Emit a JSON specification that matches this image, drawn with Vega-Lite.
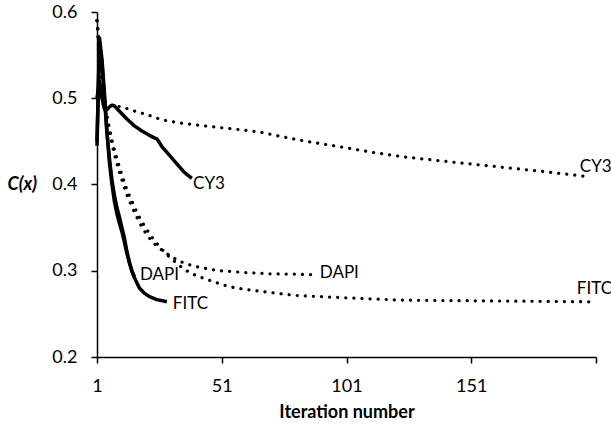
{
  "$schema": "https://vega.github.io/schema/vega-lite/v6.json",
  "width": 499,
  "height": 345,
  "autosize": {"type": "none"},
  "padding": {"left": 97, "top": 12, "right": 15, "bottom": 72},
  "background": "white",
  "config": {"view": {"stroke": null}, "font": "Lato"},
  "datasets": {
    "curves": [
      {"dye": "CY3", "run": "dotted", "iteration": 1, "cx": 0.59},
      {"dye": "CY3", "run": "dotted", "iteration": 2, "cx": 0.54},
      {"dye": "CY3", "run": "dotted", "iteration": 3, "cx": 0.51},
      {"dye": "CY3", "run": "dotted", "iteration": 4, "cx": 0.498},
      {"dye": "CY3", "run": "dotted", "iteration": 5, "cx": 0.493},
      {"dye": "CY3", "run": "dotted", "iteration": 7, "cx": 0.491},
      {"dye": "CY3", "run": "dotted", "iteration": 11, "cx": 0.49},
      {"dye": "CY3", "run": "dotted", "iteration": 15, "cx": 0.486},
      {"dye": "CY3", "run": "dotted", "iteration": 21, "cx": 0.481},
      {"dye": "CY3", "run": "dotted", "iteration": 27, "cx": 0.475},
      {"dye": "CY3", "run": "dotted", "iteration": 35, "cx": 0.471},
      {"dye": "CY3", "run": "dotted", "iteration": 47, "cx": 0.467},
      {"dye": "CY3", "run": "dotted", "iteration": 60, "cx": 0.463},
      {"dye": "CY3", "run": "dotted", "iteration": 66, "cx": 0.461},
      {"dye": "CY3", "run": "dotted", "iteration": 74, "cx": 0.456},
      {"dye": "CY3", "run": "dotted", "iteration": 85, "cx": 0.45},
      {"dye": "CY3", "run": "dotted", "iteration": 100, "cx": 0.443},
      {"dye": "CY3", "run": "dotted", "iteration": 112, "cx": 0.437},
      {"dye": "CY3", "run": "dotted", "iteration": 124, "cx": 0.432},
      {"dye": "CY3", "run": "dotted", "iteration": 140, "cx": 0.427},
      {"dye": "CY3", "run": "dotted", "iteration": 160, "cx": 0.421},
      {"dye": "CY3", "run": "dotted", "iteration": 180, "cx": 0.415},
      {"dye": "CY3", "run": "dotted", "iteration": 198, "cx": 0.409},

      {"dye": "DAPI", "run": "dotted", "iteration": 1, "cx": 0.59},
      {"dye": "DAPI", "run": "dotted", "iteration": 2, "cx": 0.56},
      {"dye": "DAPI", "run": "dotted", "iteration": 3, "cx": 0.52},
      {"dye": "DAPI", "run": "dotted", "iteration": 4, "cx": 0.495},
      {"dye": "DAPI", "run": "dotted", "iteration": 5, "cx": 0.475},
      {"dye": "DAPI", "run": "dotted", "iteration": 6, "cx": 0.46},
      {"dye": "DAPI", "run": "dotted", "iteration": 7, "cx": 0.447},
      {"dye": "DAPI", "run": "dotted", "iteration": 8, "cx": 0.435},
      {"dye": "DAPI", "run": "dotted", "iteration": 9, "cx": 0.424},
      {"dye": "DAPI", "run": "dotted", "iteration": 10, "cx": 0.414},
      {"dye": "DAPI", "run": "dotted", "iteration": 11, "cx": 0.405},
      {"dye": "DAPI", "run": "dotted", "iteration": 12, "cx": 0.396},
      {"dye": "DAPI", "run": "dotted", "iteration": 13, "cx": 0.388},
      {"dye": "DAPI", "run": "dotted", "iteration": 14, "cx": 0.381},
      {"dye": "DAPI", "run": "dotted", "iteration": 16, "cx": 0.368},
      {"dye": "DAPI", "run": "dotted", "iteration": 18, "cx": 0.356},
      {"dye": "DAPI", "run": "dotted", "iteration": 20, "cx": 0.346},
      {"dye": "DAPI", "run": "dotted", "iteration": 22, "cx": 0.338},
      {"dye": "DAPI", "run": "dotted", "iteration": 24, "cx": 0.331},
      {"dye": "DAPI", "run": "dotted", "iteration": 27, "cx": 0.324},
      {"dye": "DAPI", "run": "dotted", "iteration": 30, "cx": 0.318},
      {"dye": "DAPI", "run": "dotted", "iteration": 34, "cx": 0.311},
      {"dye": "DAPI", "run": "dotted", "iteration": 38, "cx": 0.307},
      {"dye": "DAPI", "run": "dotted", "iteration": 42, "cx": 0.304},
      {"dye": "DAPI", "run": "dotted", "iteration": 50, "cx": 0.3},
      {"dye": "DAPI", "run": "dotted", "iteration": 60, "cx": 0.298},
      {"dye": "DAPI", "run": "dotted", "iteration": 70, "cx": 0.2965},
      {"dye": "DAPI", "run": "dotted", "iteration": 80, "cx": 0.296},
      {"dye": "DAPI", "run": "dotted", "iteration": 88, "cx": 0.2955},

      {"dye": "FITC", "run": "dotted", "iteration": 1, "cx": 0.59},
      {"dye": "FITC", "run": "dotted", "iteration": 2, "cx": 0.555},
      {"dye": "FITC", "run": "dotted", "iteration": 3, "cx": 0.525},
      {"dye": "FITC", "run": "dotted", "iteration": 4, "cx": 0.5},
      {"dye": "FITC", "run": "dotted", "iteration": 5, "cx": 0.48},
      {"dye": "FITC", "run": "dotted", "iteration": 6, "cx": 0.465},
      {"dye": "FITC", "run": "dotted", "iteration": 7, "cx": 0.452},
      {"dye": "FITC", "run": "dotted", "iteration": 8, "cx": 0.44},
      {"dye": "FITC", "run": "dotted", "iteration": 9, "cx": 0.43},
      {"dye": "FITC", "run": "dotted", "iteration": 10, "cx": 0.42},
      {"dye": "FITC", "run": "dotted", "iteration": 11, "cx": 0.411},
      {"dye": "FITC", "run": "dotted", "iteration": 12, "cx": 0.402},
      {"dye": "FITC", "run": "dotted", "iteration": 13, "cx": 0.394},
      {"dye": "FITC", "run": "dotted", "iteration": 14, "cx": 0.387},
      {"dye": "FITC", "run": "dotted", "iteration": 16, "cx": 0.374},
      {"dye": "FITC", "run": "dotted", "iteration": 18, "cx": 0.362},
      {"dye": "FITC", "run": "dotted", "iteration": 20, "cx": 0.352},
      {"dye": "FITC", "run": "dotted", "iteration": 22, "cx": 0.343},
      {"dye": "FITC", "run": "dotted", "iteration": 24, "cx": 0.335},
      {"dye": "FITC", "run": "dotted", "iteration": 27, "cx": 0.325},
      {"dye": "FITC", "run": "dotted", "iteration": 30, "cx": 0.316},
      {"dye": "FITC", "run": "dotted", "iteration": 34, "cx": 0.306},
      {"dye": "FITC", "run": "dotted", "iteration": 38, "cx": 0.298},
      {"dye": "FITC", "run": "dotted", "iteration": 42, "cx": 0.293},
      {"dye": "FITC", "run": "dotted", "iteration": 48, "cx": 0.287},
      {"dye": "FITC", "run": "dotted", "iteration": 54, "cx": 0.2815},
      {"dye": "FITC", "run": "dotted", "iteration": 60, "cx": 0.2785},
      {"dye": "FITC", "run": "dotted", "iteration": 70, "cx": 0.275},
      {"dye": "FITC", "run": "dotted", "iteration": 80, "cx": 0.2715},
      {"dye": "FITC", "run": "dotted", "iteration": 94, "cx": 0.2695},
      {"dye": "FITC", "run": "dotted", "iteration": 110, "cx": 0.2675},
      {"dye": "FITC", "run": "dotted", "iteration": 122, "cx": 0.266},
      {"dye": "FITC", "run": "dotted", "iteration": 140, "cx": 0.2655},
      {"dye": "FITC", "run": "dotted", "iteration": 160, "cx": 0.265},
      {"dye": "FITC", "run": "dotted", "iteration": 180, "cx": 0.2645},
      {"dye": "FITC", "run": "dotted", "iteration": 199, "cx": 0.264},

      {"dye": "CY3", "run": "solid", "iteration": 1, "cx": 0.5},
      {"dye": "CY3", "run": "solid", "iteration": 2, "cx": 0.52},
      {"dye": "CY3", "run": "solid", "iteration": 3, "cx": 0.5},
      {"dye": "CY3", "run": "solid", "iteration": 4, "cx": 0.487},
      {"dye": "CY3", "run": "solid", "iteration": 5, "cx": 0.487},
      {"dye": "CY3", "run": "solid", "iteration": 6, "cx": 0.49},
      {"dye": "CY3", "run": "solid", "iteration": 7, "cx": 0.492},
      {"dye": "CY3", "run": "solid", "iteration": 8, "cx": 0.491},
      {"dye": "CY3", "run": "solid", "iteration": 10, "cx": 0.485},
      {"dye": "CY3", "run": "solid", "iteration": 13, "cx": 0.476},
      {"dye": "CY3", "run": "solid", "iteration": 16, "cx": 0.468},
      {"dye": "CY3", "run": "solid", "iteration": 19, "cx": 0.462},
      {"dye": "CY3", "run": "solid", "iteration": 22, "cx": 0.457},
      {"dye": "CY3", "run": "solid", "iteration": 24, "cx": 0.454},
      {"dye": "CY3", "run": "solid", "iteration": 25, "cx": 0.453},
      {"dye": "CY3", "run": "solid", "iteration": 27, "cx": 0.444},
      {"dye": "CY3", "run": "solid", "iteration": 30, "cx": 0.434},
      {"dye": "CY3", "run": "solid", "iteration": 33, "cx": 0.424},
      {"dye": "CY3", "run": "solid", "iteration": 36, "cx": 0.414},
      {"dye": "CY3", "run": "solid", "iteration": 39, "cx": 0.407},

      {"dye": "DAPI", "run": "solid", "iteration": 1, "cx": 0.45},
      {"dye": "DAPI", "run": "solid", "iteration": 2, "cx": 0.565},
      {"dye": "DAPI", "run": "solid", "iteration": 3, "cx": 0.54},
      {"dye": "DAPI", "run": "solid", "iteration": 4, "cx": 0.5},
      {"dye": "DAPI", "run": "solid", "iteration": 5, "cx": 0.46},
      {"dye": "DAPI", "run": "solid", "iteration": 6, "cx": 0.43},
      {"dye": "DAPI", "run": "solid", "iteration": 7, "cx": 0.405},
      {"dye": "DAPI", "run": "solid", "iteration": 8, "cx": 0.387},
      {"dye": "DAPI", "run": "solid", "iteration": 9, "cx": 0.373},
      {"dye": "DAPI", "run": "solid", "iteration": 10, "cx": 0.362},
      {"dye": "DAPI", "run": "solid", "iteration": 11, "cx": 0.35},
      {"dye": "DAPI", "run": "solid", "iteration": 12, "cx": 0.338},
      {"dye": "DAPI", "run": "solid", "iteration": 13, "cx": 0.322},
      {"dye": "DAPI", "run": "solid", "iteration": 14, "cx": 0.31},
      {"dye": "DAPI", "run": "solid", "iteration": 15, "cx": 0.299},
      {"dye": "DAPI", "run": "solid", "iteration": 16, "cx": 0.293},

      {"dye": "FITC", "run": "solid", "iteration": 1, "cx": 0.445},
      {"dye": "FITC", "run": "solid", "iteration": 2, "cx": 0.57},
      {"dye": "FITC", "run": "solid", "iteration": 3, "cx": 0.545},
      {"dye": "FITC", "run": "solid", "iteration": 4, "cx": 0.505},
      {"dye": "FITC", "run": "solid", "iteration": 5, "cx": 0.46},
      {"dye": "FITC", "run": "solid", "iteration": 6, "cx": 0.425},
      {"dye": "FITC", "run": "solid", "iteration": 7, "cx": 0.4},
      {"dye": "FITC", "run": "solid", "iteration": 8, "cx": 0.38},
      {"dye": "FITC", "run": "solid", "iteration": 9, "cx": 0.366},
      {"dye": "FITC", "run": "solid", "iteration": 10, "cx": 0.355},
      {"dye": "FITC", "run": "solid", "iteration": 11, "cx": 0.345},
      {"dye": "FITC", "run": "solid", "iteration": 12, "cx": 0.333},
      {"dye": "FITC", "run": "solid", "iteration": 13, "cx": 0.32},
      {"dye": "FITC", "run": "solid", "iteration": 14, "cx": 0.309},
      {"dye": "FITC", "run": "solid", "iteration": 15, "cx": 0.3},
      {"dye": "FITC", "run": "solid", "iteration": 16, "cx": 0.292},
      {"dye": "FITC", "run": "solid", "iteration": 18, "cx": 0.28},
      {"dye": "FITC", "run": "solid", "iteration": 20, "cx": 0.274},
      {"dye": "FITC", "run": "solid", "iteration": 22, "cx": 0.27},
      {"dye": "FITC", "run": "solid", "iteration": 25, "cx": 0.2665},
      {"dye": "FITC", "run": "solid", "iteration": 29, "cx": 0.264}
    ],
    "labels": [
      {"label": "CY3", "iteration": 39.5, "cx": 0.401},
      {"label": "DAPI", "iteration": 18.2, "cx": 0.295},
      {"label": "FITC", "iteration": 31.4, "cx": 0.262},
      {"label": "DAPI", "iteration": 90.3, "cx": 0.297},
      {"label": "FITC", "iteration": 193.3, "cx": 0.279},
      {"label": "CY3", "iteration": 194.5, "cx": 0.42}
    ]
  },
  "encoding": {
    "x": {
      "field": "iteration",
      "type": "quantitative",
      "scale": {"domain": [1, 201], "nice": false, "zero": false},
      "axis": {
        "title": "Iteration number",
        "values": [1, 51, 101, 151, 201],
        "labelExpr": "datum.value == 201 ? '' : datum.label",
        "grid": false,
        "domainColor": "black",
        "domainWidth": 1.5,
        "tickColor": "black",
        "tickWidth": 1.5,
        "tickSize": 6,
        "labelFont": "Lato",
        "labelFontSize": 18,
        "labelColor": "black",
        "labelPadding": 14,
        "labelFlush": false,
        "titleFont": "Lato",
        "titleFontSize": 18,
        "titleFontWeight": "bold",
        "titleColor": "black",
        "titlePadding": 8
      }
    },
    "y": {
      "field": "cx",
      "type": "quantitative",
      "scale": {"domain": [0.2, 0.6], "nice": false, "zero": false},
      "axis": {
        "title": "C(x)",
        "values": [0.2, 0.3, 0.4, 0.5, 0.6],
        "format": ".1f",
        "grid": false,
        "domainColor": "black",
        "domainWidth": 1.5,
        "tickColor": "black",
        "tickWidth": 1.5,
        "tickSize": 6,
        "labelFont": "Lato",
        "labelFontSize": 18,
        "labelColor": "black",
        "labelPadding": 14,
        "labelFlush": false,
        "titleFont": "Lato",
        "titleFontSize": 18,
        "titleFontWeight": "bold",
        "titleFontStyle": "italic",
        "titleColor": "black",
        "titleAngle": 0,
        "titleAlign": "left",
        "titleBaseline": "middle",
        "titleX": -90,
        "titleY": 172
      }
    }
  },
  "layer": [
    {
      "data": {"name": "curves"},
      "transform": [{"filter": "datum.run == 'dotted'"}],
      "mark": {"type": "line", "color": "black", "strokeWidth": 3.2, "strokeCap": "round", "strokeDash": [0.1, 8], "clip": false},
      "encoding": {"detail": {"field": "dye", "type": "nominal"}}
    },
    {
      "data": {"name": "curves"},
      "transform": [{"filter": "datum.run == 'solid'"}],
      "mark": {"type": "line", "color": "black", "strokeWidth": 3.5, "strokeJoin": "round", "strokeCap": "butt"},
      "encoding": {"detail": {"field": "dye", "type": "nominal"}}
    },
    {
      "data": {"name": "labels"},
      "mark": {"type": "text", "align": "left", "baseline": "middle", "font": "Lato", "fontSize": 17, "color": "black"},
      "encoding": {"text": {"field": "label", "type": "nominal"}}
    }
  ]
}
